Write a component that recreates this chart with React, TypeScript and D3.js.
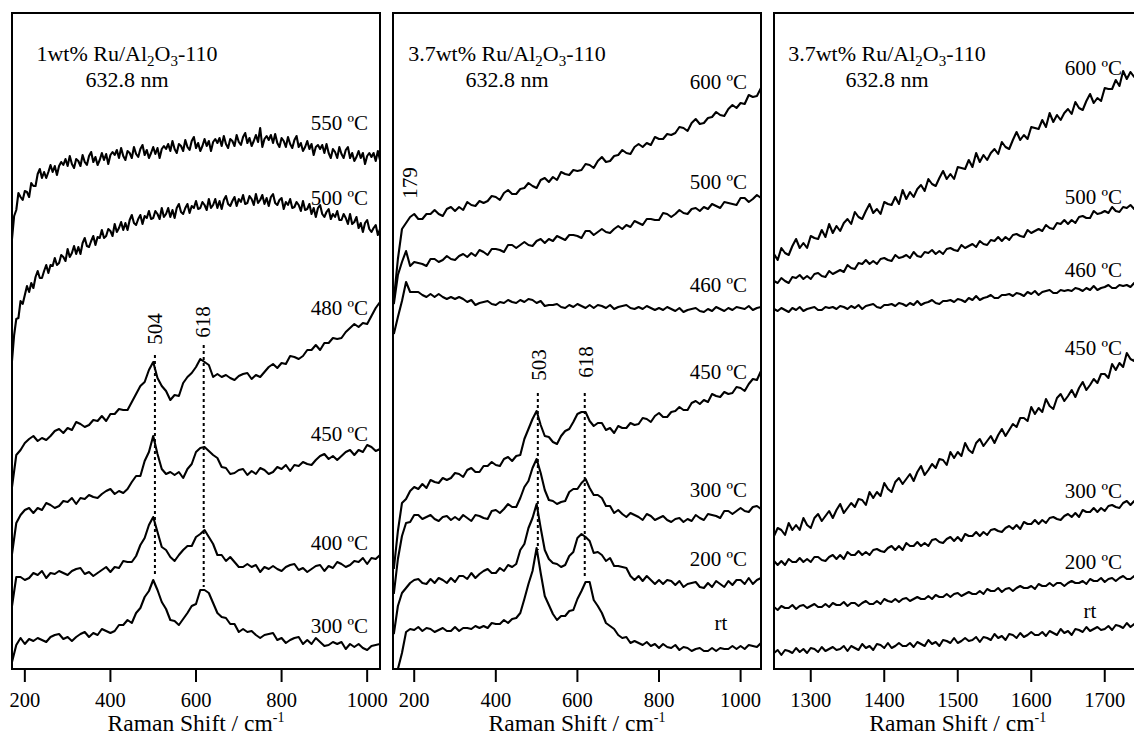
import React from 'react';
import * as d3 from 'd3';

// ---------- DATA (intensity in a.u., Raman shift in cm-1) ----------
// Panel 1: 1wt% Ru/Al2O3-110
const P1_START = 170;
const P1_550_STEP = 5;
const P1_550 = [430,453,459,476,472,469,478,477,472,486,483,483,495,500,491,497,491,497,504,497,503,494,503,507,504,510,503,513,505,501,510,508,503,514,507,504,513,517,507,512,504,509,516,509,515,505,514,517,514,519,511,521,513,509,518,516,511,522,515,512,520,524,514,519,511,516,522,515,521,511,520,523,520,525,518,528,520,516,525,523,518,529,522,519,528,532,521,526,518,523,530,523,528,518,527,530,526,531,523,533,525,521,530,528,523,534,527,524,532,536,526,531,523,528,534,527,541,522,530,533,529,534,526,535,526,522,531,528,522,532,525,521,529,533,522,526,518,522,528,520,525,514,522,524,520,524,516,525,516,511,520,517,511,522,515,511,519,522,511,516,508,512,518,511,516,505,513,516,512,516,508,518,509];
const P1_500_STEP = 5;
const P1_500 = [308,334,350,351,368,365,374,383,377,386,381,392,398,391,391,398,404,396,404,403,411,404,406,414,412,408,420,412,416,423,415,422,415,426,431,423,422,428,433,424,432,431,439,431,433,440,438,433,445,437,441,447,439,446,439,449,454,446,444,450,454,445,453,451,458,450,451,458,455,450,461,452,455,461,452,459,451,461,465,457,455,461,465,456,463,461,468,460,461,467,464,459,470,461,464,470,461,468,460,469,473,465,463,468,472,463,470,467,474,465,466,473,470,464,475,466,469,474,465,471,463,472,475,466,464,469,471,460,467,464,470,461,462,467,464,458,468,459,460,465,455,461,452,461,464,455,452,457,460,450,455,452,458,449,449,455,451,445,455,445,447,452,441,446,437,446,449,440,437,441,444,434,440];
const P1_STEP = 10;
const P1_480 = [182,214,219,226,230,233,228,231,229,233,238,240,236,241,239,247,245,242,244,249,248,253,248,255,255,260,259,259,267,275,283,287,299,307,291,283,278,269,274,273,286,292,296,302,310,307,304,292,295,292,294,291,289,293,295,296,290,294,292,297,302,305,301,306,305,313,312,310,313,319,319,324,319,326,326,331,330,331,337,341,345,342,346,345,353,361,367];
const P1_450 = [115,146,154,159,161,156,161,159,166,164,161,163,168,167,171,165,171,170,174,172,171,175,178,180,175,178,176,180,187,193,193,208,217,233,215,200,195,197,194,197,191,200,205,217,221,222,218,214,211,202,201,195,196,199,200,194,198,195,201,199,195,197,202,200,204,198,204,203,207,205,204,209,213,215,210,213,209,213,217,219,214,219,217,224,222,218,220];
const P1_400 = [63,92,92,89,91,96,94,98,91,96,95,98,96,94,98,100,101,95,97,93,96,99,102,97,102,101,108,107,107,113,124,131,144,152,137,122,119,112,108,114,119,123,123,132,135,139,132,125,114,114,108,112,107,102,102,105,102,104,97,102,100,103,100,98,102,104,105,99,101,97,100,103,104,98,103,101,107,105,102,104,108,107,111,105,111,110,114];
const P1_300 = [7,24,31,25,30,28,31,29,27,32,34,35,30,32,28,32,35,37,32,36,34,40,38,36,38,44,44,49,46,56,61,72,78,89,79,67,60,49,48,44,50,56,63,65,79,79,76,66,56,52,51,45,45,37,40,37,38,34,31,34,35,36,29,31,26,29,31,32,25,29,25,31,27,23,24,27,25,27,20,25,22,25,21,19,23,24,25];
const P1_TEMPS = ['550 ºC', '500 ºC', '480 ºC', '450 ºC', '400 ºC', '300 ºC'];
const P1_PEAKS = [504, 618];

// Panel 2: 3.7wt% Ru/Al2O3-110, low wavenumber
const P2_START = 150;
const P2_STEP = 10;
const P2_600 = [369,410,440,446,452,455,450,450,455,455,459,455,453,460,462,458,462,459,467,464,463,468,466,468,473,472,469,476,479,475,475,480,481,486,483,481,489,491,487,492,489,497,495,494,499,498,499,505,504,501,508,512,507,508,513,514,519,516,515,522,525,522,526,524,532,530,530,535,534,536,542,541,538,546,550,545,546,551,552,557,554,553,560,564,561,566,565,574,572,573,581];
const P2_500 = [365,394,407,418,403,407,406,405,403,410,410,407,409,413,410,409,413,415,412,416,413,419,417,414,420,420,419,417,424,424,421,424,427,424,423,428,430,426,430,428,433,431,429,434,434,433,431,438,438,434,437,440,437,436,440,443,440,444,442,448,446,444,450,450,449,449,456,455,452,455,459,456,455,460,461,458,462,460,465,463,461,467,466,465,464,471,471,467,470,474,471];
const P2_460 = [335,352,368,387,377,377,377,374,372,375,372,375,372,370,372,370,372,370,367,369,364,366,367,368,365,364,367,366,369,367,366,369,367,370,369,366,368,363,364,364,365,362,361,364,362,365,363,361,364,361,364,363,361,364,360,362,363,364,361,360,362,360,363,361,359,361,359,362,360,358,361,357,359,360,361,358,357,360,358,362,360,358,361,359,362,361,360,363,359,361,362];
const P2_450 = [100,138,166,170,178,182,180,185,181,189,187,186,191,189,191,196,195,192,199,201,197,197,203,203,207,204,203,210,212,208,213,214,230,240,250,258,244,233,232,227,225,233,238,240,247,255,257,257,248,243,246,246,239,241,236,243,241,241,246,244,245,251,250,247,253,256,252,252,257,258,262,259,259,266,268,265,269,267,275,273,272,277,275,276,282,281,278,285,290,289,298];
const P2_300 = [75,110,133,146,147,154,154,150,152,154,150,148,152,153,149,152,149,154,151,148,154,153,151,150,158,159,156,160,165,162,162,171,182,188,201,210,196,179,169,168,165,167,168,177,180,180,186,190,181,174,174,171,163,163,156,159,155,152,156,154,152,149,155,153,149,151,153,149,147,150,151,147,150,148,154,151,149,155,154,153,151,158,158,155,158,161,158,157,162,163,160];
const P2_200 = [35,63,76,81,86,89,90,86,85,90,86,91,89,86,91,87,93,93,90,96,91,95,98,100,96,96,101,98,104,102,105,119,125,141,151,165,141,119,110,106,105,102,104,113,117,131,135,132,128,116,117,114,108,111,103,103,102,101,93,89,93,88,93,89,85,89,85,89,88,84,88,82,85,86,87,82,81,86,82,88,85,82,88,84,89,89,85,91,85,89,91];
const P2_RT_START = 160;
const P2_RT = [0,16,37,40,39,42,38,41,40,37,39,41,38,38,42,38,41,41,40,43,41,43,41,46,45,45,49,46,50,51,56,70,85,98,121,96,73,64,55,49,53,53,58,59,70,78,87,87,69,63,56,46,43,40,34,31,32,26,28,26,24,27,23,25,21,25,22,21,24,19,22,21,18,20,21,18,18,21,18,21,20,20,23,20,23,20,24,23,22,26];
const P2_TEMPS = ['600 ºC', '500 ºC', '460 ºC', '450 ºC', '300 ºC', '200 ºC', 'rt'];
const P2_PEAKS = [503, 618];
const P2_EXTRA_PEAK = 179;

// Panel 3: 3.7wt% Ru/Al2O3-110, high wavenumber
const P3_START = 1250;
const P3_STEP = 5;
const P3_600 = [415,409,421,416,414,423,430,421,426,421,433,431,430,439,432,445,436,443,438,446,450,445,457,452,450,458,465,456,460,455,467,465,464,472,465,479,470,477,472,480,484,478,490,485,483,491,498,490,495,490,502,501,500,509,502,516,507,514,509,516,520,515,527,522,520,529,537,529,534,530,542,541,540,549,542,556,547,554,549,556,560,555,567,561,559,568,575,566,571,568,581,580,580,589,583,598,590,597,592,599,603];
const P3_500 = [388,386,391,388,386,392,391,394,390,393,390,395,396,393,392,398,395,397,399,397,404,401,400,406,405,409,405,408,405,410,411,409,408,414,411,412,414,411,417,413,412,417,416,419,415,418,415,420,421,419,418,424,421,423,425,422,428,425,424,429,428,432,428,432,429,434,435,433,432,439,436,438,440,438,444,441,440,446,445,449,445,449,446,452,453,451,451,458,455,456,458,456,462,458,457,462,461,464,460,463,460];
const P3_460 = [360,358,361,359,357,361,359,362,358,360,361,362,359,359,362,361,362,360,363,362,360,363,361,364,360,363,364,365,362,361,364,364,365,363,366,365,363,366,364,368,364,366,367,369,366,365,368,368,369,367,370,369,367,371,369,373,369,371,372,374,371,371,374,374,375,373,376,375,373,377,375,378,374,377,378,379,376,376,379,378,379,378,381,380,378,381,379,383,379,381,382,384,381,381,384,383,384,382,386,384,382];
const P3_450 = [133,141,139,134,146,139,144,139,151,144,141,151,155,148,153,158,151,159,165,156,161,166,162,170,169,164,177,171,177,173,186,180,177,187,191,185,190,195,188,197,203,194,199,205,201,210,209,204,217,211,217,213,226,219,216,226,230,223,228,233,226,234,240,233,239,245,242,251,251,248,262,255,261,257,270,263,260,271,275,268,273,279,272,281,287,279,284,290,286,295,295,291,305,299,306,302,316,310,308,319,323];
const P3_300 = [108,104,108,104,110,107,107,111,107,110,107,112,112,109,108,112,114,110,114,110,117,114,114,118,114,117,114,119,120,118,117,121,123,119,123,119,126,123,123,127,123,126,123,129,130,127,126,130,132,128,132,128,135,133,133,137,133,137,134,139,140,138,137,141,143,140,144,140,147,145,145,149,145,149,146,151,152,150,149,153,155,152,156,152,159,157,157,161,157,161,158,163,164,162,161,166,168,164,168,164,171];
const P3_200 = [62,59,63,61,61,64,60,63,64,61,63,65,62,62,65,62,66,64,64,67,63,66,66,63,66,68,65,65,68,65,70,68,67,70,67,70,71,68,70,72,70,70,73,70,74,72,72,75,72,75,76,73,75,77,75,75,78,75,80,78,78,81,77,80,81,78,81,83,81,81,83,80,85,83,83,86,83,86,86,83,86,88,86,86,88,85,90,88,88,91,87,90,91,88,91,93,90,90,93,90,95];
const P3_RT = [16,19,14,19,18,16,21,17,20,16,21,20,17,22,18,20,22,19,20,23,18,23,21,19,25,21,23,19,25,24,21,26,21,23,26,23,23,26,22,27,25,23,29,25,27,23,29,28,26,31,26,28,31,28,29,32,27,32,31,29,35,31,33,29,35,34,31,36,32,34,37,34,34,37,33,38,36,34,40,36,38,34,40,39,37,42,38,40,42,39,40,43,39,44,43,41,46,42,45,41,47];
const P3_TEMPS = ['600 ºC', '500 ºC', '460 ºC', '450 ºC', '300 ºC', '200 ºC', 'rt'];

const HEADERS = [
  { pre: '1wt% Ru/Al', wl: '632.8 nm' },
  { pre: '3.7wt% Ru/Al', wl: '632.8 nm' },
  { pre: '3.7wt% Ru/Al', wl: '632.8 nm' },
];
const X_DOMAINS: [number, number][] = [[170, 1030], [148, 1050], [1250, 1750]];
const X_TICKS = [[200, 400, 600, 800, 1000], [200, 400, 600, 800, 1000], [1300, 1400, 1500, 1600, 1700]];
const Y_DOMAIN: [number, number] = [0, 656];

// ---------- LAYOUT ----------
const W = 1134, H = 735;
const TOP = 13, BOTTOM = 669;
const LAYOUT = [
  { left: 12, right: 380, headerX: 127, labelEnd: 368, rtX: 0,
    labelBase: [130, 205, 315, 441, 550, 633],
    peakLabel: [[155, 329], [203, 322]], peakLine: [[355, 577], [345, 587]] },
  { left: 393, right: 761, headerX: 507, labelEnd: 747, rtX: 721,
    labelBase: [89, 189, 292, 379, 497, 566, 630],
    peakLabel: [[539, 365], [586, 362]], peakLine: [[393, 550], [393, 577]] },
  { left: 774, right: 1141.5, headerX: 887, labelEnd: 1122, rtX: 1090,
    labelBase: [75, 204, 277, 355, 498, 569, 618],
    peakLabel: [], peakLine: [] },
];

type Series = { start: number; step: number; values: number[] };

const PANEL_SERIES: Series[][] = [
  [
    { start: P1_START, step: P1_550_STEP, values: P1_550 },
    { start: P1_START, step: P1_500_STEP, values: P1_500 },
    ...[P1_480, P1_450, P1_400, P1_300].map(v => ({ start: P1_START, step: P1_STEP, values: v })),
  ],
  [
    ...[P2_600, P2_500, P2_460, P2_450, P2_300, P2_200].map(v => ({ start: P2_START, step: P2_STEP, values: v })),
    { start: P2_RT_START, step: P2_STEP, values: P2_RT },
  ],
  [P3_600, P3_500, P3_460, P3_450, P3_300, P3_200, P3_RT].map(v => ({ start: P3_START, step: P3_STEP, values: v })),
];
const PANEL_TEMPS = [P1_TEMPS, P2_TEMPS, P3_TEMPS];
const PANEL_PEAKS = [P1_PEAKS, P2_PEAKS, []];

const FONT = "'Liberation Serif', 'Times New Roman', Times, serif";

export default function App() {
  const yScale = d3.scaleLinear().domain(Y_DOMAIN).range([BOTTOM, TOP]);
  return (
    <svg width={W} height={H} viewBox={`0 0 ${W} ${H}`}
      style={{ position: 'absolute', left: 0, top: 0, background: '#fff' }}
      fontFamily={FONT}>
      <defs>
        {LAYOUT.map((L, i) => (
          <clipPath id={`clip${i}`} key={i}>
            <rect x={L.left} y={TOP} width={L.right - L.left} height={BOTTOM - TOP} />
          </clipPath>
        ))}
      </defs>
      {LAYOUT.map((L, pi) => {
        const x = d3.scaleLinear().domain(X_DOMAINS[pi]).range([L.left, L.right]);
        const series = PANEL_SERIES[pi];
        const cx = (L.left + L.right) / 2;
        return (
          <g key={pi}>
            <g clipPath={`url(#clip${pi})`}>
              {series.map((s, si) => {
                const line = d3.line<number>()
                  .x((_, i) => x(s.start + i * s.step))
                  .y(d => yScale(d));
                return <path key={si} d={line(s.values) || ''} fill="none" stroke="#000"
                  strokeWidth={2.1} strokeLinejoin="round" />;
              })}
            </g>
            {PANEL_PEAKS[pi].map((p, k) => (
              <g key={k}>
                <line x1={x(p)} x2={x(p)} y1={L.peakLine[k][0]} y2={L.peakLine[k][1]}
                  stroke="#000" strokeWidth={2} strokeDasharray="3 3" />
                <text transform={`translate(${L.peakLabel[k][0]},${L.peakLabel[k][1]}) rotate(-90)`}
                  textAnchor="middle" dominantBaseline="central" fontSize={21}>{p}</text>
              </g>
            ))}
            {pi === 1 && (
              <text transform={`translate(410,183) rotate(-90)`} textAnchor="middle"
                dominantBaseline="central" fontSize={21}>{P2_EXTRA_PEAK}</text>
            )}
            {PANEL_TEMPS[pi].map((t, k) => (
              t === 'rt'
                ? <text key={k} x={L.rtX} y={L.labelBase[k]} textAnchor="middle" fontSize={21}>{t}</text>
                : <text key={k} x={L.labelEnd} y={L.labelBase[k]} textAnchor="end" fontSize={21}>{t}</text>
            ))}
            <text x={L.headerX} y={61} textAnchor="middle" fontSize={22}>
              {HEADERS[pi].pre}<tspan fontSize={15} dy={5}>2</tspan><tspan dy={-5}>O</tspan><tspan fontSize={15} dy={5}>3</tspan><tspan dy={-5}>-110</tspan>
            </text>
            <text x={L.headerX} y={87} textAnchor="middle" fontSize={22}>{HEADERS[pi].wl}</text>
            <rect x={L.left} y={TOP} width={L.right - L.left} height={BOTTOM - TOP}
              fill="none" stroke="#000" strokeWidth={2} />
            {X_TICKS[pi].map(t => (
              <g key={t}>
                <line x1={x(t)} x2={x(t)} y1={BOTTOM} y2={BOTTOM + 13} stroke="#000" strokeWidth={2} />
                <text x={x(t)} y={707} textAnchor="middle" fontSize={20.5}>{t}</text>
              </g>
            ))}
            <text x={cx} y={731} textAnchor="middle" fontSize={23.5}>
              Raman Shift / cm<tspan fontSize={14} dy={-9}>-1</tspan>
            </text>
          </g>
        );
      })}
    </svg>
  );
}
